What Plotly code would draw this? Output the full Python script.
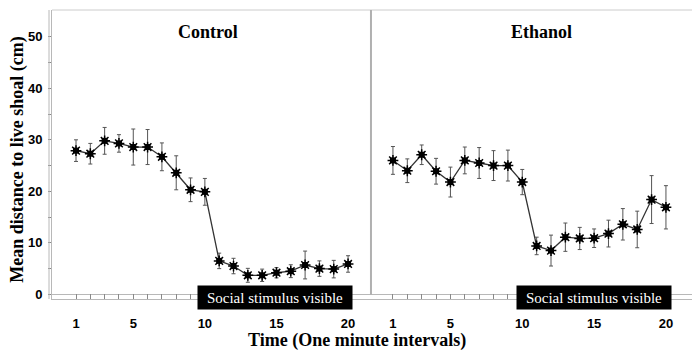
import plotly.graph_objects as go

minutes = list(range(1, 21))
control_mean = [27.9, 27.3, 29.8, 29.3, 28.6, 28.6, 26.7, 23.6, 20.3, 19.9,
                6.5, 5.5, 3.7, 3.7, 4.2, 4.5, 5.7, 5.0, 4.9, 5.9]
control_err = [2.1, 2.0, 2.6, 1.7, 3.5, 3.4, 2.7, 3.3, 2.3, 2.6,
               1.5, 1.5, 1.35, 1.2, 1.0, 1.25, 2.7, 1.5, 1.7, 1.6]
ethanol_mean = [26.0, 24.0, 27.1, 23.9, 21.8, 26.0, 25.5, 25.0, 25.0, 21.8,
                9.4, 8.5, 11.1, 10.85, 10.9, 11.8, 13.6, 12.6, 18.4, 16.9]
ethanol_err = [2.7, 2.3, 1.9, 2.5, 2.9, 2.6, 3.0, 2.9, 3.0, 2.45,
               1.7, 3.0, 2.75, 2.15, 1.8, 2.6, 3.05, 3.55, 4.65, 4.2]
x_tick_labels = {1: "1", 5: "5", 10: "10", 15: "15", 20: "20"}
y_ticks = list(range(0, 55, 5))
y_tick_labels = {0: "0", 10: "10", 20: "20", 30: "30", 40: "40", 50: "50"}
panel_titles = ["Control", "Ethanol"]
stimulus_label = "Social stimulus visible"

SERIF = "Liberation Serif"
SANS = "Liberation Sans"

fig = go.Figure()

GRAY = "#b8b8b8"
for i, (mean, err) in enumerate([(control_mean, control_err), (ethanol_mean, ethanol_err)]):
    xa = "x" if i == 0 else "x2"
    fig.add_trace(go.Scatter(
        x=minutes, y=mean, xaxis=xa, yaxis="y",
        mode="lines+markers",
        line=dict(color="#333333", width=1.3),
        marker=dict(symbol="square", size=6, color="black"),
        error_y=dict(type="data", array=err, color="#555555", thickness=1, width=2),
        showlegend=False, hoverinfo="skip"))
    fig.add_trace(go.Scatter(
        x=minutes, y=mean, xaxis=xa, yaxis="y",
        mode="markers",
        marker=dict(symbol="asterisk", size=9, color="black",
                    line=dict(color="black", width=1.5)),
        showlegend=False, hoverinfo="skip"))

xtickvals = minutes
xticktext = [x_tick_labels.get(m, "") for m in minutes]
common_x = dict(
    tickmode="array", tickvals=xtickvals, ticktext=xticktext,
    ticks="inside", ticklen=5, tickcolor="#888888", tickwidth=1,
    showline=True, linecolor=GRAY, linewidth=1, mirror=False,
    showgrid=False, zeroline=False,
    tickfont=dict(family=SANS, size=13, color="black", weight="bold"),
    ticklabelstandoff=12,
)
dom_split = 0.493
fig.update_layout(
    width=692, height=356,
    margin=dict(l=44, r=1, t=2, b=65),
    paper_bgcolor="white", plot_bgcolor="white",
    xaxis=dict(domain=[0, dom_split], range=[-0.676, 21.6], anchor="y", **common_x),
    xaxis2=dict(domain=[dom_split, 1], range=[-0.53, 22.3], anchor="y", **common_x),
    yaxis=dict(
        range=[-0.9, 55.2],
        tickmode="array", tickvals=y_ticks,
        ticktext=[y_tick_labels.get(v, "") for v in y_ticks],
        ticks="outside", ticklen=3, tickcolor="#888888",
        showline=True, linecolor=GRAY, linewidth=1,
        showgrid=False, zeroline=True, zerolinecolor=GRAY, zerolinewidth=1,
        tickfont=dict(family=SANS, size=13, color="black", weight="bold"),
        ticklabelstandoff=3,
    ),
    font=dict(family=SERIF, color="black"),
)

# frame lines
fig.add_shape(type="line", xref="paper", yref="paper", x0=0, x1=1, y0=1, y1=1,
              line=dict(color="#cccccc", width=1))
fig.add_shape(type="line", xref="paper", yref="paper", x0=1, x1=1, y0=0.015, y1=1,
              line=dict(color="#b0b0b0", width=1))
fig.add_shape(type="line", xref="paper", yref="paper", x0=dom_split, x1=dom_split, y0=0.015, y1=1,
              line=dict(color="#b0b0b0", width=2))
fig.add_shape(type="line", xref="paper", yref="paper", x0=-3/647, x1=-3/647, y0=0, y1=1,
              line=dict(color=GRAY, width=1))

# titles
for xpos, t in zip([0.241, 0.757], panel_titles):
    fig.add_annotation(x=xpos, y=0.924, xref="paper", yref="paper",
                       xanchor="center", yanchor="middle",
                       text=f"<b>{t}</b>", showarrow=False,
                       font=dict(family=SERIF, size=18, color="black"))

# stimulus boxes
for xa, xc in [("x", 14.9), ("x2", 15.0)]:
    fig.add_annotation(x=xc, y=0.005, xref=xa, yref="paper", yanchor="middle",
                       text=stimulus_label, showarrow=False,
                       bgcolor="black", borderpad=1, width=152, height=21,
                       font=dict(family=SERIF, size=15, color="white"))

# axis titles
fig.add_annotation(x=0.471, y=-0.142, xref="paper", yref="paper",
                   xanchor="center", yanchor="middle",
                   text="<b>Time (One minute intervals)</b>", showarrow=False,
                   font=dict(family=SERIF, size=18, color="black"))
fig.add_annotation(x=-0.053, y=0.481, xref="paper", yref="paper", textangle=-90,
                   xanchor="center", yanchor="middle",
                   text="<b>Mean distance to live shoal (cm)</b>", showarrow=False,
                   font=dict(family=SERIF, size=18, color="black"))

fig.write_html("out.html")
